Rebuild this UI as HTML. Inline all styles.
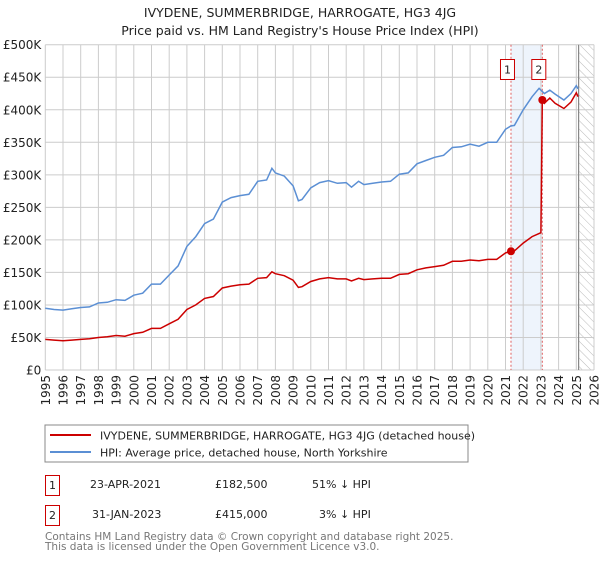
<!DOCTYPE html>
<html><head><meta charset="utf-8"><style>
body{margin:0;background:#fff;font-family:"DejaVu Sans","Liberation Sans",sans-serif;}
svg text{font-family:"DejaVu Sans","Liberation Sans",sans-serif;}
</style></head><body>
<svg id="chart" width="600" height="560" xmlns="http://www.w3.org/2000/svg">
<defs><pattern id="hatch" width="6" height="6" patternUnits="userSpaceOnUse" patternTransform="rotate(-45)"><line x1="0" y1="0" x2="0" y2="6" stroke="#bbb" stroke-width="1"/></pattern></defs>
<text x="300" y="17" text-anchor="middle" font-size="12.5" fill="#222">IVYDENE, SUMMERBRIDGE, HARROGATE, HG3 4JG</text>
<text x="300" y="35" text-anchor="middle" font-size="12.5" fill="#222">Price paid vs. HM Land Registry's House Price Index (HPI)</text>
<g id="grid"></g><g id="marks"></g><g id="axes"></g>
<rect x="45" y="425" width="423" height="37" fill="#fff" stroke="#888"/>
<line x1="50" y1="435" x2="91" y2="435" stroke="#cc0000" stroke-width="2"/>
<text x="100" y="439.5" font-size="11" fill="#222">IVYDENE, SUMMERBRIDGE, HARROGATE, HG3 4JG (detached house)</text>
<line x1="50" y1="452" x2="91" y2="452" stroke="#5b8fd4" stroke-width="2"/>
<text x="100" y="456.5" font-size="11" fill="#222">HPI: Average price, detached house, North Yorkshire</text>
<g>
<rect x="45.5" y="475.5" width="14" height="20" fill="#fff" stroke="#cc0000"/>
<text x="52.5" y="489" text-anchor="middle" font-size="11" fill="#222">1</text>
<text x="90" y="488" font-size="11" fill="#222">23-APR-2021</text>
<text x="215" y="488" font-size="11" fill="#222">£182,500</text>
<text x="312" y="488" font-size="11" fill="#222">51% ↓ HPI</text></g>
<g>
<rect x="45.5" y="505.5" width="14" height="20" fill="#fff" stroke="#cc0000"/>
<text x="52.5" y="519" text-anchor="middle" font-size="11" fill="#222">2</text>
<text x="92" y="518" font-size="11" fill="#222">31-JAN-2023</text>
<text x="215" y="518" font-size="11" fill="#222">£415,000</text>
<text x="319" y="518" font-size="11" fill="#222">3% ↓ HPI</text></g>
<text x="45" y="540" font-size="10.5" fill="#777">Contains HM Land Registry data © Crown copyright and database right 2025.</text>
<text x="45" y="550" font-size="10.5" fill="#777">This data is licensed under the Open Government Licence v3.0.</text>
</svg>
<script>
const hpiYears=[1995,1995.5,1996,1996.5,1997,1997.5,1998,1998.5,1999,1999.5,2000,2000.5,2001,2001.5,2002,2002.5,2003,2003.5,2004,2004.5,2005,2005.5,2006,2006.5,2007,2007.5,2007.8,2008,2008.5,2009,2009.3,2009.5,2010,2010.5,2011,2011.5,2012,2012.3,2012.7,2013,2013.5,2014,2014.5,2015,2015.5,2016,2016.5,2017,2017.5,2018,2018.5,2019,2019.5,2020,2020.5,2021,2021.3,2021.5,2022,2022.5,2022.9,2023.2,2023.5,2023.8,2024.3,2024.7,2025,2025.1];
const hpiValues=[95,93,92,94,96,97,103,104,108,107,115,118,132,132,146,160,190,205,225,232,258,265,268,270,290,292,310,303,298,283,260,262,280,288,291,287,288,281,290,285,287,289,290,301,303,317,322,327,330,342,343,347,344,350,350,370,375,376,400,420,433,425,430,424,415,425,437,432];
const priceYears=[1995,1995.5,1996,1996.5,1997,1997.5,1998,1998.5,1999,1999.5,2000,2000.5,2001,2001.5,2002,2002.5,2003,2003.5,2004,2004.5,2005,2005.5,2006,2006.5,2007,2007.5,2007.8,2008,2008.5,2009,2009.3,2009.5,2010,2010.5,2011,2011.5,2012,2012.3,2012.7,2013,2013.5,2014,2014.5,2015,2015.5,2016,2016.5,2017,2017.5,2018,2018.5,2019,2019.5,2020,2020.5,2021,2021.3,2021.5,2022,2022.5,2023.0,2023.08,2023.2,2023.5,2023.8,2024.3,2024.7,2025,2025.1];
const priceValues=[47,46,45,46,47,48,50,51,53,52,56,58,64,64,71,78,93,100,110,113,126,129,131,132,141,142,151,148,145,138,127,128,136,140,142,140,140,137,141,139,140,141,141,147,148,154,157,159,161,167,167,169,168,170,170,180,182.5,183,195,205,211,415,410,418,410,402,412,426,420];
const saleYears=[2021.31,2023.08];
const saleValues=[182.5,415];
const saleLabels=["1","2"];
const yTicks=[0,50,100,150,200,250,300,350,400,450,500];
const yTickLabels=["£0","£50K","£100K","£150K","£200K","£250K","£300K","£350K","£400K","£450K","£500K"];
const xTicks=[1995,1996,1997,1998,1999,2000,2001,2002,2003,2004,2005,2006,2007,2008,2009,2010,2011,2012,2013,2014,2015,2016,2017,2018,2019,2020,2021,2022,2023,2024,2025,2026];
const dataEnd=2025.13;
const X0=45.3,X1=594,Y0=370,Y1=44.7;
const xs=y=>X0+(y-1995)/(2026-1995)*(X1-X0);
const ys=v=>Y0-v/500*(Y0-Y1);
const NS="http://www.w3.org/2000/svg";
function mk(tag,attrs,parent){const e=document.createElementNS(NS,tag);for(const k in attrs)e.setAttribute(k,attrs[k]);parent.appendChild(e);return e;}
const grid=document.getElementById('grid'),marks=document.getElementById('marks'),axes=document.getElementById('axes');
let band=mk('rect',{x:xs(saleYears[0]),y:Y1,width:xs(saleYears[1])-xs(saleYears[0]),height:Y0-Y1,fill:'#eef4fc'},grid);


let hatch=mk('rect',{x:xs(dataEnd),y:Y1,width:X1-xs(dataEnd),height:Y0-Y1,fill:'url(#hatch)'},grid);


yTicks.forEach((t,i)=>{
  let l=mk('line',{x1:X0,x2:X1,y1:ys(t),y2:ys(t),stroke:'#ccc','stroke-width':1},grid);
  
  
  let tx=mk('text',{x:X0-4,y:ys(t)+4.5,'text-anchor':'end','font-size':'12',fill:'#222'},axes);
  tx.textContent=yTickLabels[i];
  
  
});
xTicks.forEach(t=>{
  let l=mk('line',{x1:xs(t),x2:xs(t),y1:Y1,y2:Y0,stroke:'#ccc','stroke-width':1},grid);
  
  
  let tx=mk('text',{x:0,y:0,'text-anchor':'end','font-size':'12',fill:'#222',transform:`translate(${xs(t)+4.5},${Y0+5}) rotate(-90)`},axes);
  tx.textContent=String(t);
  
  
});
let endLine=mk('line',{x1:xs(dataEnd),x2:xs(dataEnd),y1:Y1,y2:Y0,stroke:'#888','stroke-width':1.2},grid);


saleYears.forEach((sy,i)=>{
  let l=mk('line',{x1:xs(sy),x2:xs(sy),y1:Y1,y2:Y0,stroke:'#e06060','stroke-width':1,'stroke-dasharray':'2,2'},grid);
  
  
});
function path(xa,va){return xa.map((x,i)=>(i?'L':'M')+xs(x).toFixed(1)+','+ys(va[i]).toFixed(1)).join('');}
let hp=mk('path',{d:path(hpiYears,hpiValues),fill:'none',stroke:'#5b8fd4','stroke-width':1.5},marks);


let pp=mk('path',{d:path(priceYears,priceValues),fill:'none',stroke:'#cc0000','stroke-width':1.5},marks);


saleYears.forEach((sy,i)=>{
  let c=mk('circle',{cx:xs(sy),cy:ys(saleValues[i]),r:4,fill:'#cc0000'},marks);
  
  
  let g=mk('g',{},marks);
  
  
  mk('rect',{x:xs(sy)-10.5,y:59.5,width:14,height:20,fill:'#fff',stroke:'#cc0000'},g);
  let t=mk('text',{x:xs(sy)-3.5,y:73.5,'text-anchor':'middle','font-size':'11',fill:'#222'},g);
  t.textContent=saleLabels[i];
});
</script>
</body></html>
